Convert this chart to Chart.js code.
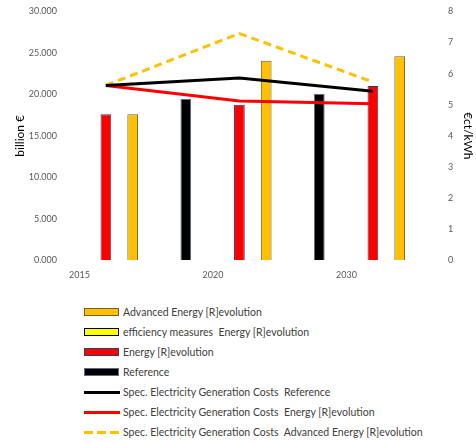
<!DOCTYPE html>
<html>
<head>
<meta charset="utf-8">
<script src="https://cdn.jsdelivr.net/npm/chart.js@4.4.0/dist/chart.umd.min.js"></script>
<style>
  body { margin: 0; background: #fff; }
  #wrap { position: relative; width: 476px; height: 442px; }
  #chartBox { position: absolute; left: 0; top: 0; width: 476px; height: 292px; }
  #legend { position: absolute; left: 84px; top: 302px; font-family: Lato, sans-serif; font-size: 10.5px; color: #404040; }
  .item { height: 20px; display: flex; align-items: center; white-space: pre; }
  .swatch { width: 35px; height: 8px; box-sizing: border-box; margin-right: 4px; }
  .stroke { width: 36px; height: 3px; margin-right: 3px; }
</style>
</head>
<body>
<div id="wrap">
  <div id="chartBox"><canvas id="costChart"></canvas></div>
  <div id="legend"></div>
</div>
<script>
// years on the category axis
const categories = ['2015', '2020', '2030'];

// investment, billion € (left axis)
const referenceInvest = [null, 19.45, 20.05];
const efficiencyInvest = [null, null, null];
const revolutionInvest = [17.6, 18.75, 21.0];
const advancedInvest = [17.6, 24.05, 24.6];

// specific electricity generation costs, €ct/kWh (right axis)
const costReference = [5.62, 5.86, 5.43];
const costRevolution = [5.62, 5.12, 5.03];
const costAdvanced = [5.62, 7.29, 5.73];

// axis ranges
const investMax = 30, investStep = 5;
const costMax = 8, costStep = 1;

const tickFont = { family: 'Lato, sans-serif', size: 9 };
const tickColor = '#595959';

// bars sit on a linear index axis so the groups can be placed freely
const xMin = -0.2434, xMax = 2.618;
// cost lines are drawn over the [R]evolution bar of each group (fraction of a group step)
const lineShift = 0.1;

const toPoints = arr => arr.map((v, i) => ({ x: i, y: v }));

const barDefaults = {
    type: 'bar',
    yAxisID: 'y',
    borderWidth: 1,
    categoryPercentage: 0.803,
    barPercentage: 0.4,
    order: 1
};
const lineDefaults = {
    type: 'line',
    yAxisID: 'y1',
    borderWidth: 3,
    pointRadius: 0,
    fill: false,
    tension: 0,
    order: 0
};

const datasets = [
    { ...barDefaults, label: 'Reference', data: toPoints(referenceInvest),
      backgroundColor: '#000000', borderColor: '#5B6B80' },
    { ...barDefaults, label: 'efficiency measures  Energy [R]evolution', data: toPoints(efficiencyInvest),
      backgroundColor: '#FFFF00', borderColor: '#000000' },
    { ...barDefaults, label: 'Energy [R]evolution', data: toPoints(revolutionInvest),
      backgroundColor: '#FF0000', borderColor: '#2F3F5F' },
    { ...barDefaults, label: 'Advanced Energy [R]evolution', data: toPoints(advancedInvest),
      backgroundColor: '#FFC000', borderColor: '#6F6040' },
    { ...lineDefaults, label: 'Spec. Electricity Generation Costs  Reference', data: toPoints(costReference),
      borderColor: '#000000' },
    { ...lineDefaults, label: 'Spec. Electricity Generation Costs  Energy [R]evolution', data: toPoints(costRevolution),
      borderColor: '#FF0000' },
    { ...lineDefaults, label: 'Spec. Electricity Generation Costs  Advanced Energy [R]evolution', data: toPoints(costAdvanced),
      borderColor: '#FFC000', borderDash: [8, 5] }
];

// nudge the cost lines sideways so they run through the [R]evolution bars
const shiftLines = {
    id: 'shiftLines',
    beforeDatasetDraw(chart, args) {
        if (args.meta.type !== 'line') return;
        const x = chart.scales.x;
        chart.ctx.save();
        chart.ctx.translate((x.getPixelForValue(1) - x.getPixelForValue(0)) * lineShift, 0);
    },
    afterDatasetDraw(chart, args) {
        if (args.meta.type === 'line') chart.ctx.restore();
    }
};

const ctx = document.getElementById('costChart').getContext('2d');
const costChart = new Chart(ctx, {
    data: { datasets: datasets },
    plugins: [shiftLines],
    options: {
        responsive: true,
        maintainAspectRatio: false,
        animation: false,
        layout: { padding: { top: 6, bottom: 3, left: 0, right: 0 } },
        plugins: {
            legend: { display: false },
            tooltip: { enabled: false }
        },
        scales: {
            x: {
                type: 'linear',
                offset: false,
                min: xMin,
                max: xMax,
                grid: { display: false, drawTicks: false },
                border: { display: false },
                afterBuildTicks: scale => {
                    scale.ticks = categories.map((c, i) => ({ value: i }));
                },
                ticks: {
                    font: tickFont,
                    color: tickColor,
                    padding: 9,
                    labelOffset: -13,
                    autoSkip: false,
                    maxRotation: 0,
                    callback: v => categories[v]
                }
            },
            y: {
                position: 'left',
                min: 0,
                max: investMax,
                grid: { display: false, drawTicks: false },
                border: { display: false },
                afterFit: scale => { scale.width = 60; },
                ticks: {
                    stepSize: investStep,
                    font: tickFont,
                    color: tickColor,
                    padding: 3,
                    callback: v => v.toFixed(3)
                },
                title: {
                    display: true,
                    text: 'billion €',
                    font: { family: 'Lato, sans-serif', size: 12 },
                    color: '#000000',
                    padding: { top: 13, bottom: 0 }
                }
            },
            y1: {
                position: 'right',
                min: 0,
                max: costMax,
                grid: { display: false, drawTicks: false },
                border: { display: false },
                afterFit: scale => { scale.width = 34; },
                ticks: {
                    stepSize: costStep,
                    font: tickFont,
                    color: tickColor,
                    padding: 6
                },
                title: {
                    display: true,
                    text: '€ct/kWh',
                    font: { family: 'Lato, sans-serif', size: 12 },
                    color: '#000000',
                    padding: { top: 1, bottom: 0 }
                }
            }
        }
    }
});

// legend below the chart, one entry per row
const legendOrder = [3, 1, 2, 0, 4, 5, 6];
const legendEl = document.getElementById('legend');
legendOrder.forEach(idx => {
    const ds = costChart.data.datasets[idx];
    const row = document.createElement('div');
    row.className = 'item';
    const mark = document.createElement('div');
    if (ds.type === 'bar') {
        mark.className = 'swatch';
        mark.style.background = ds.backgroundColor;
        mark.style.border = (idx === 1 ? 1.5 : 1) + 'px solid ' + ds.borderColor;
    } else {
        mark.className = 'stroke';
        mark.style.background = ds.borderDash
            ? 'repeating-linear-gradient(to right, ' + ds.borderColor + ' 0 9px, transparent 9px 13px)'
            : ds.borderColor;
    }
    const text = document.createElement('span');
    text.textContent = ds.label;
    row.appendChild(mark);
    row.appendChild(text);
    legendEl.appendChild(row);
});
</script>
</body>
</html>
